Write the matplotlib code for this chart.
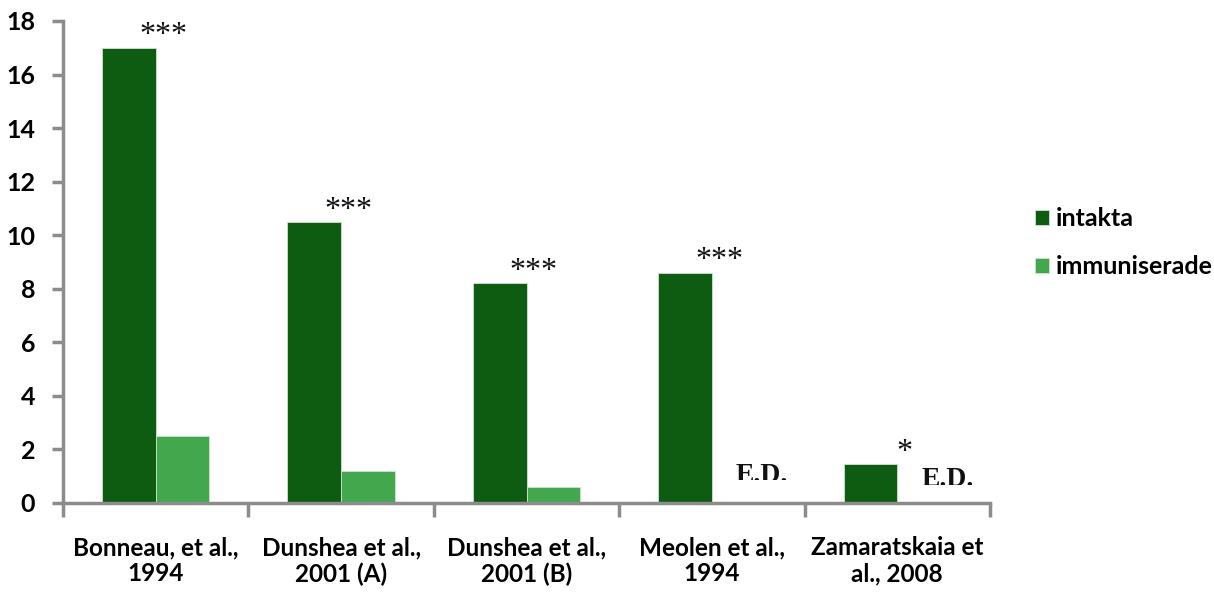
import matplotlib
matplotlib.use("Agg")
import matplotlib.pyplot as plt
import numpy as np
from matplotlib.transforms import Bbox, TransformedBbox

# Studies and measured values
studies = ["Bonneau, et al.,\n1994", "Dunshea et al.,\n2001 (A)", "Dunshea et al.,\n2001 (B)",
           "Meolen et al.,\n1994", "Zamaratskaia et\nal., 2008"]
intakta = [17.0, 10.5, 8.2, 8.6, 1.45]
immuniserade = [2.5, 1.2, 0.6, None, None]
significance = ["***", "***", "***", "***", "*"]
yticks = [0, 2, 4, 6, 8, 10, 12, 14, 16, 18]

dark_green = "#0e5c12"
light_green = "#43a84d"
spine_gray = "#8c8c8c"

fig = plt.figure(figsize=(12.14, 5.92), dpi=100)
ax = fig.add_axes([63/1214, 1 - 503/592, (990 - 63)/1214, (503 - 21)/592])

x = np.arange(len(studies))
w = 0.29
ax.bar(x - w/2, intakta, width=w, color=dark_green, edgecolor="#cfe3cf", linewidth=0.6,
       label="intakta", zorder=2)
imm_x = [xi + w/2 for xi, v in zip(x, immuniserade) if v is not None]
ax.bar(imm_x, [v for v in immuniserade if v is not None], width=w, color=light_green,
       edgecolor="#cfe3cf", linewidth=0.6, label="immuniserade", zorder=2)

# significance markers above each group
for xi, h, s in zip(x, intakta, significance):
    ax.text(xi + 0.04, h - 0.1, s, ha="center", va="bottom", fontsize=23,
            family="Liberation Serif", color="#111111")

# "E.D." labels where no value was available, lower part hidden
ed_base = {3: 0.80, 4: 0.62}
ed_cut = {3: 0.87, 4: 0.68}
for xi, v in zip(x, immuniserade):
    if v is None:
        off = 0.27
        t = ax.text(xi + off, ed_base[xi], "E.D.", ha="center", va="baseline", fontsize=20,
                    family="Liberation Serif", weight="bold", color="#111111")
        box = TransformedBbox(Bbox([[xi + off - 0.3, ed_cut[xi]], [xi + off + 0.3, 4]]),
                              ax.transData)
        t.set_clip_box(box)
        t.set_clip_on(True)

ax.set_xlim(-0.5, len(studies) - 0.5)
ax.set_ylim(0, 18)
ax.set_yticks(yticks)
ax.set_yticklabels([str(t) for t in yticks], fontsize=18, family="Lato", weight="bold")
ax.set_xticks(x)
ax.set_xticklabels(studies, fontsize=17.5, family="Lato", weight="bold", linespacing=1.15)
ax.tick_params(axis="x", length=0, pad=24)
ax.set_xticks(np.arange(-0.5, len(studies)), minor=True)
ax.tick_params(axis="x", which="minor", length=10, width=2.5, color=spine_gray, direction="out")
ax.tick_params(axis="y", length=8, width=2.5, color=spine_gray, pad=12)

for side in ["top", "right"]:
    ax.spines[side].set_visible(False)
for side in ["left", "bottom"]:
    ax.spines[side].set_color(spine_gray)
    ax.spines[side].set_linewidth(2.5)

leg = fig.legend(loc="upper left", bbox_to_anchor=(1027/1214, 1 - 200/592), frameon=False,
                 prop={"family": "Lato", "weight": "bold", "size": 18},
                 handlelength=0.56, handleheight=0.56, handletextpad=0.3, labelspacing=1.0,
                 borderpad=0.3, borderaxespad=0)

fig.savefig("out.png", dpi=100)
